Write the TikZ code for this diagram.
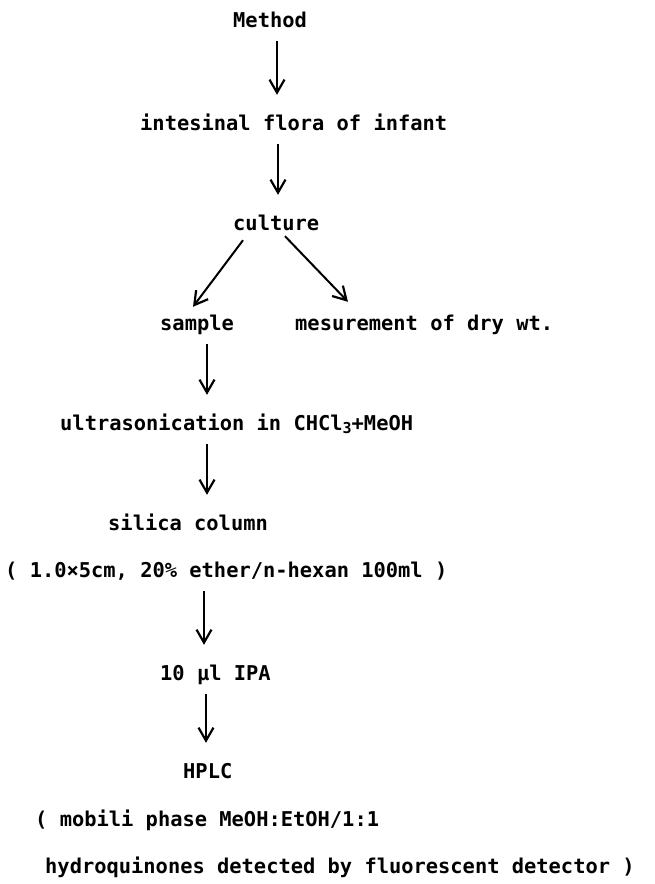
\documentclass[tikz,border=0pt]{standalone}
\usepackage{fontspec}
\setmonofont{DejaVu Sans Mono}
\usetikzlibrary{arrows.meta}
\tikzset{
  stage/.style={anchor=base west, inner sep=0pt, text height=15pt, text depth=4pt,
    font=\ttfamily\bfseries\fontsize{20.4}{24}\selectfont},
  flow/.style={-{Straight Barb[length=13pt,width=15pt,line width=2.2pt]}, line width=2pt},
  stepdown/.style={flow, line width=2.6pt, shorten <=10pt, shorten >=20pt},
}
\newcommand{\subthree}{\raisebox{-3pt}{\fontsize{15}{15}\selectfont 3}}
\begin{document}
\begin{tikzpicture}[x=1pt, y=-1pt]
    \useasboundingbox (0, 0) rectangle (654, 884);
    % steps
    \node[stage] (method) at (233, 27) {Method};
    \node[stage] (flora) at (140, 130) {intesinal flora of infant};
    \node[stage] (culture) at (233, 230) {culture};
    \node[stage] (sample) at (160, 330) {sample};
    \node[stage] (drywt) at (295, 330) {mesurement of dry wt.};
    \node[stage] (ultra) at (60, 430) {ultrasonication in CHCl\subthree+MeOH};
    \node[stage] (silica) at (108, 530) {silica column};
    \node[stage] (column) at (5, 577) {( 1.0×5cm, 20\% ether/n-hexan 100ml )};
    \node[stage] (ipa) at (160, 680) {10 μl IPA};
    \node[stage] (hplc) at (183, 778) {HPLC};
    \node[stage] (mobile) at (35, 826) {( mobili phase MeOH:EtOH/1:1};
    \node[stage] (detect) at (45, 873) {hydroquinones detected by fluorescent detector )};
    % arrows
    \draw[stepdown] ([xshift=44pt]method.south west) -- ([xshift=137pt]flora.north west);
    \draw[stepdown] ([xshift=138pt]flora.south west) -- ([xshift=45pt]culture.north west);
    \draw[flow] ([shift={(10pt,-6pt)}]culture.south west) -- ([shift={(33pt,8pt)}]sample.north west);
    \draw[flow] ([shift={(52pt,-2pt)}]culture.south west) -- ([shift={(53pt,13pt)}]drywt.north west);
    \draw[stepdown] ([xshift=47pt]sample.south west) -- ([xshift=147pt]ultra.north west);
    \draw[stepdown] ([xshift=147pt]ultra.south west) -- ([xshift=99pt]silica.north west);
    \draw[stepdown] ([xshift=199pt]column.south west) -- ([xshift=44pt]ipa.north west);
    \draw[stepdown] ([xshift=46pt]ipa.south west) -- ([xshift=23pt]hplc.north west);
\end{tikzpicture}
\end{document}
